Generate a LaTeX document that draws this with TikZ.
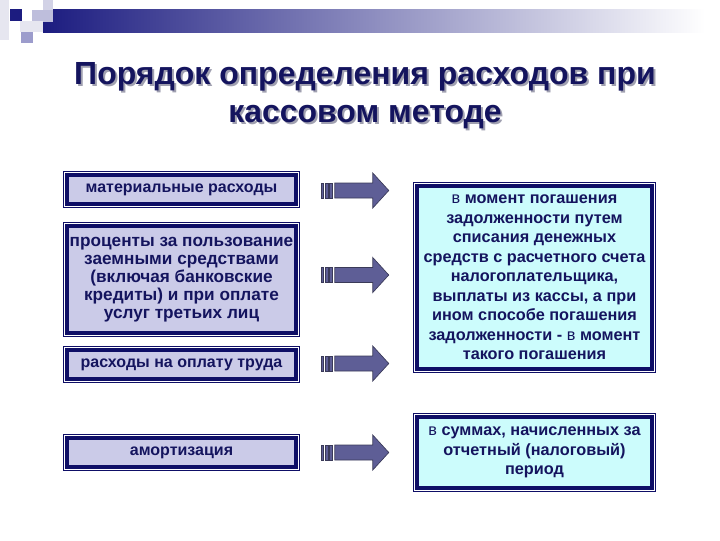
\documentclass[tikz,border=0pt]{standalone}
\usepackage{fontspec}
\setmainfont{Liberation Sans}
\usetikzlibrary{calc}
\definecolor{navyframe}{HTML}{0E0E66}
\definecolor{navytext}{HTML}{14145E}
\definecolor{navybar}{HTML}{1C1C80}
\definecolor{lavender}{HTML}{CBCBE8}
\definecolor{lightcyan}{HTML}{CCFCFC}
\definecolor{arrowfill}{HTML}{5E5E96}
\definecolor{arrowline}{HTML}{3A3A58}
\definecolor{titleshadow}{HTML}{A0A0B0}
\definecolor{decorlight}{HTML}{E6E6F0}
\definecolor{decorpale}{HTML}{D2D2E6}
\definecolor{decormid}{HTML}{BEBEDC}
\definecolor{decorlav}{HTML}{9C9CCC}

\tikzset{
  blok/.style={draw=navyframe, line width=2.625pt, outer sep=0pt, inner sep=1pt,
    align=center, text=navytext},
  lbox/.style={blok, fill=lavender, minimum width=171.4pt,
    font=\bfseries\fontsize{12}{13.3}\selectfont},
  rbox/.style={blok, fill=lightcyan, minimum width=175.9pt,
    font=\bfseries\fontsize{12.2}{14.6}\selectfont},
  ramka/.style={draw=navyframe, line width=0.75pt},
  zagolovok/.style={align=center, font=\bfseries\fontsize{24}{28.5}\selectfont},
  strelka/.pic={
    \foreach \xa/\xb in {0/2,3.5/6.5,8/11}
      \draw[draw=arrowline, fill=arrowfill, line width=0.5pt] (\xa,-7.5) rectangle (\xb,7.5);
    \draw[draw=arrowline, fill=arrowfill, line width=0.5pt] (13,-7.5) -- (51,-7.5) -- (51,-17.5)
      -- (67,0) -- (51,17.5) -- (51,7.5) -- (13,7.5) -- cycle;
  }
}

\begin{document}
\begin{tikzpicture}[x=0.75pt, y=-0.75pt]
   \useasboundingbox (0,0) rectangle (720,540);

   % decor in the corner
   \shade[left color=navybar, right color=white] (43,9) rectangle (705,32);
   \fill[decorlight] (0,0) rectangle (9,40);
   \fill[navybar] (10,9) rectangle (22,21);
   \fill[decorpale] (43,0) rectangle (53,10);
   \fill[decormid] (32,10) rectangle (53,22);
   \fill[decorlight] (20,21) rectangle (43,32);
   \fill[decorlav] (21,32) rectangle (33,43);

   % title
   \node[zagolovok, text=titleshadow] (zagten) at (367,98) {Порядок определения расходов при\\кассовом методе};
   \node[zagolovok, text=navytext] (zag) at (365,96) {Порядок определения расходов при\\кассовом методе};

   % left column
   \node[lbox, minimum height=21.4pt] (L1) at (181.5,189.5) {материальные расходы};
   \node[lbox, minimum height=79.9pt, inner sep=0pt, font=\bfseries\fontsize{12.9}{13.4}\selectfont] (L2) at (181.5,279.5)
      {проценты за пользование\\заемными средствами\\(включая банковские\\кредиты) и при оплате\\услуг третьих лиц};
   \node[lbox, minimum height=21.4pt] (L3) at (181.5,364.5) {расходы на оплату труда};
   \node[lbox, minimum height=21.4pt] (L4) at (181.5,452.5) {амортизация};

   % right column
   \node[rbox, minimum height=136.9pt] (R1) at (534.5,277.5)
      {{\mdseries в} момент погашения\\задолженности путем\\списания денежных\\средств с расчетного счета\\налогоплательщика,\\выплаты из кассы, а при\\ином способе погашения\\задолженности - {\mdseries в} момент\\такого погашения};
   \node[rbox, minimum height=52.9pt] (R2) at (534.5,452.5)
      {{\mdseries в} суммах, начисленных за\\отчетный (налоговый)\\период};

   % thin outer frames
   \foreach \n in {L1,L2,L3,L4,R1,R2}
      \draw[ramka] ([shift={(-3.75,-3.75)}]\n.north west) rectangle ([shift={(3.75,3.75)}]\n.south east);

   % arrows
   \path (L1.east) ++(26,1) pic {strelka};
   \path (L2.east) ++(26,-4.5) pic {strelka};
   \path (L3.east) ++(26,-1) pic {strelka};
   \path (L4.east) ++(26,0) pic {strelka};
\end{tikzpicture}
\end{document}
